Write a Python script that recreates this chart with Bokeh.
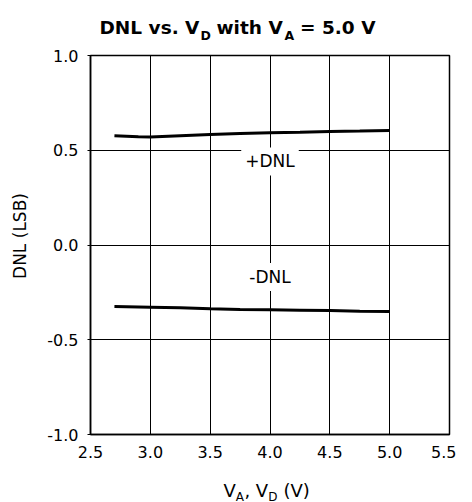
import math
from bokeh.plotting import figure
from bokeh.layouts import column, row
from bokeh.models import Label, Range1d, FixedTicker, PrintfTickFormatter
from bokeh.core.properties import value
from bokeh.embed import file_html
from bokeh.resources import INLINE

# ---- data ----
pos_x = [2.7, 2.8, 2.9, 3.0, 3.25, 3.5, 3.75, 4.0, 4.25, 4.5, 4.75, 5.0]
pos_dnl = [0.577, 0.574, 0.571, 0.570, 0.577, 0.583, 0.588, 0.592, 0.595, 0.599, 0.601, 0.604]
neg_x = [2.7, 3.0, 3.25, 3.5, 3.75, 4.0, 4.25, 4.5, 4.75, 5.0]
neg_dnl = [-0.325, -0.328, -0.331, -0.337, -0.340, -0.342, -0.344, -0.346, -0.349, -0.351]
x_ticks = [2.5, 3.0, 3.5, 4.0, 4.5, 5.0, 5.5]
y_ticks = [-1.0, -0.5, 0.0, 0.5, 1.0]
pos_label = "+DNL"
neg_label = "-DNL"
pos_label_y = 0.441
neg_label_y = -0.169
label_x = 4.0
y_axis_title = "DNL (LSB)"

# title pieces (text, subscript?)
title_parts = ["DNL vs. V", "D", "with V", "A", "= 5.0 V"]
title_sub = [False, True, False, True, False]
title_px = [99.0, 200.0, 216.0, 284.0, 299.5]
# x axis title pieces
xlab_parts = ["V", "A", ", V", "D", "(V)"]
xlab_sub = [False, True, False, True, False]
xlab_px = [223.0, 235.3, 243.9, 267.7, 283.0]

FONT = "DejaVu Sans"
W = 456
YLAB_W = 40
TITLE_H = 45
MAIN_H = 428
XLAB_H = 29
L, R, T, B = 90 - YLAB_W, 7, 10, 39


def blank(width, height):
    f = figure(width=width, height=height, x_range=Range1d(0, width), y_range=Range1d(height, 0),
               x_axis_type=None, y_axis_type=None, output_backend="svg",
               toolbar_location=None, title=None, frame_align=False,
               min_border_left=0, min_border_right=0, min_border_top=0, min_border_bottom=0)
    f.outline_line_color = None
    f.background_fill_color = "white"
    f.border_fill_color = "white"
    return f


def text_strip(height, parts, subs, xs, base, sub_base, size, sub_size, bold):
    f = blank(W, height)
    style = "bold" if bold else "normal"
    mx = [x for x, s in zip(xs, subs) if not s]
    mt = [t for t, s in zip(parts, subs) if not s]
    sx = [x for x, s in zip(xs, subs) if s]
    st = [t for t, s in zip(parts, subs) if s]
    f.text(x=mx, y=[base] * len(mx), text=mt, text_font=value(FONT),
           text_font_size=value(f"{size}px"), text_font_style=style,
           text_align="left", text_baseline="alphabetic", text_color="black")
    f.text(x=sx, y=[sub_base] * len(sx), text=st, text_font=value(FONT),
           text_font_size=value(f"{sub_size}px"), text_font_style=style,
           text_align="left", text_baseline="alphabetic", text_color="black")
    return f


title_fig = text_strip(TITLE_H, title_parts, title_sub, title_px, 26.7, 35.0, 18.5, 12.5, True)

# y axis title strip (left of the plot)
ylab_fig = blank(YLAB_W, MAIN_H)
ylab_fig.text(x=[19.5], y=[235.5 - TITLE_H], text=[y_axis_title], angle=math.pi / 2,
              text_font=value(FONT), text_font_size=value("17px"),
              text_align="center", text_baseline="middle", text_color="black")

p = figure(width=W - YLAB_W, height=MAIN_H, x_range=Range1d(2.5, 5.5), y_range=Range1d(-1.0, 1.0),
           output_backend="svg", toolbar_location=None, title=None, frame_align=False,
           min_border_left=L, min_border_right=R, min_border_top=T, min_border_bottom=B)
p.background_fill_color = "white"
p.border_fill_color = "white"
p.outline_line_color = "black"
p.outline_line_width = 1.5

for ax, ticks in ((p.xaxis[0], x_ticks), (p.yaxis[0], y_ticks)):
    ax.ticker = FixedTicker(ticks=ticks)
    ax.formatter = PrintfTickFormatter(format="%.1f")
    ax.axis_line_color = "black"
    ax.axis_line_width = 1.5
    ax.major_tick_line_color = "black"
    ax.major_tick_line_width = 1
    ax.minor_tick_line_color = None
    ax.major_tick_in = 0
    ax.major_label_text_font = FONT
    ax.major_label_text_font_size = "16px"
    ax.major_label_text_color = "black"
p.xaxis.major_tick_out = 0
p.xaxis.major_label_standoff = 11
p.yaxis.major_tick_out = 3
p.yaxis.major_label_standoff = 9

for g, ticks in ((p.xgrid[0], x_ticks), (p.ygrid[0], y_ticks)):
    g.ticker = FixedTicker(ticks=ticks)
    g.grid_line_color = "black"
    g.grid_line_alpha = 1.0
    g.grid_line_width = 1

p.line(pos_x, pos_dnl, line_color="black", line_width=3)
p.line(neg_x, neg_dnl, line_color="black", line_width=3)

for txt, yy in ((pos_label, pos_label_y), (neg_label, neg_label_y)):
    p.add_layout(Label(x=label_x, y=yy, text=txt, text_align="center", text_baseline="middle",
                       text_font=FONT, text_font_size="17px", text_color="black",
                       background_fill_color="white", padding=4))

xlab_fig = text_strip(XLAB_H, xlab_parts, xlab_sub, xlab_px, 17.0, 23.0, 18, 12, False)

layout = column(title_fig, row(ylab_fig, p, spacing=0), xlab_fig, spacing=0)
open("out.html", "w").write(file_html(layout, INLINE))
